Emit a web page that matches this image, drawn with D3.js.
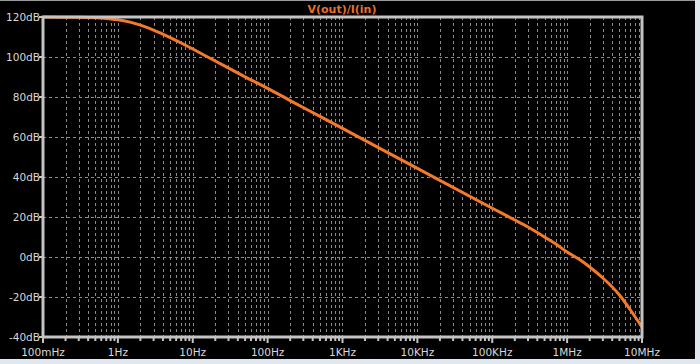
<!DOCTYPE html>
<html>
<head>
<meta charset="utf-8">
<script src="https://cdn.jsdelivr.net/npm/d3@7"></script>
<style>
  body { margin: 0; background: #dfe8f0; }
  svg { display: block; }
</style>
</head>
<body>
<svg id="chart" width="700" height="364"></svg>
<script>
// values (frequency in Hz, magnitude in dB)
const freqs = [0.1, 0.2, 0.3, 0.5, 0.7, 1, 1.5, 2, 3, 5, 7, 10, 20, 50, 100, 200, 500,
  1e3, 1e4, 1e5, 2e5, 3e5, 5e5, 7e5, 1e6, 1.5e6, 2e6, 3e6, 5e6, 7e6, 1e7]
const gainDb = [119.96, 119.93, 119.85, 119.6, 119.25, 118.6, 117.3, 115.9, 113.45, 109.7, 107.0, 104.0, 98.0, 90.1, 84.3, 78.2, 70.3,
  64.3, 44.3, 24.4, 18.5, 15.0, 10.0, 6.6, 2.5, -1.5, -5, -10.5, -19, -26.5, -35]
const xTickVals = [0.1, 1, 10, 100, 1e3, 1e4, 1e5, 1e6, 1e7]
const xTickLabels = ['100mHz', '1Hz', '10Hz', '100Hz', '1KHz', '10KHz', '100KHz', '1MHz', '10MHz']
const yTickVals = [120, 100, 80, 60, 40, 20, 0, -20, -40]
const traceName = 'V(out)/I(in)'

let dims = { left: 43, right: 642, top: 17, bottom: 337 }

let svg = d3.select('#chart')

// window frame
svg.append('rect').attr('x', 0).attr('y', 0).attr('width', 695).attr('height', 359).attr('fill', '#000')
svg.append('rect').attr('x', 0).attr('y', 0).attr('width', 695).attr('height', 1).attr('fill', '#9a9a9a')

let xScale = d3.scaleLog().domain([0.1, 1e7]).range([dims.left, dims.right])
let yScale = d3.scaleLinear().domain([-40, 120]).range([dims.bottom, dims.top])

// minor + major decade positions
let gridX = []
for (let d = -1; d < 7; d++) {
  for (let m = 1; m < 10; m++) gridX.push(m * Math.pow(10, d))
}
gridX.push(1e7)

let grid = svg.append('g')
  .attr('stroke', '#8a8a8a')
  .attr('stroke-width', 1)
  .attr('stroke-dasharray', '3,3')
  .attr('shape-rendering', 'crispEdges')

grid.selectAll('.vg')
  .data(gridX.filter(f => f > 0.1 && f < 1e7))
  .enter()
  .append('line')
  .attr('x1', d => Math.round(xScale(d)) + 0.5)
  .attr('x2', d => Math.round(xScale(d)) + 0.5)
  .attr('y1', dims.top)
  .attr('y2', dims.bottom)

grid.selectAll('.hg')
  .data(yTickVals.filter(v => v > -40 && v < 120))
  .enter()
  .append('line')
  .attr('x1', dims.left)
  .attr('x2', dims.right)
  .attr('y1', d => Math.round(yScale(d)) + 0.5)
  .attr('y2', d => Math.round(yScale(d)) + 0.5)

// trace
let line = d3.line()
  .x((d, i) => xScale(freqs[i]))
  .y(d => yScale(d))
  .curve(d3.curveMonotoneX)

svg.append('path')
  .datum(gainDb)
  .attr('d', line)
  .attr('fill', 'none')
  .attr('stroke', '#f47a2a')
  .attr('stroke-width', 3)
  .attr('stroke-linejoin', 'round')

// frame lines
let frame = svg.append('g').attr('stroke', '#c4c4c4').attr('stroke-width', 3).attr('fill', 'none')
frame.append('path')
  .attr('d', `M${dims.left},${dims.bottom}V${dims.top}H${dims.right}V${dims.bottom}H${dims.left}`)

// x ticks below the bottom axis
frame.selectAll('.xt')
  .data(gridX)
  .enter()
  .append('line')
  .attr('stroke-width', 2)
  .attr('x1', d => xScale(d))
  .attr('x2', d => xScale(d))
  .attr('y1', dims.bottom)
  .attr('y2', d => xTickVals.includes(d) ? dims.bottom + 6 : dims.bottom + 4)

// y ticks left of the axis
frame.selectAll('.yt')
  .data(yTickVals)
  .enter()
  .append('line')
  .attr('stroke-width', 2)
  .attr('x1', dims.left - 4)
  .attr('x2', dims.left)
  .attr('y1', d => yScale(d))
  .attr('y2', d => yScale(d))

let labelFont = 'Tahoma, "DejaVu Sans", sans-serif'

svg.selectAll('.yl')
  .data(yTickVals)
  .enter()
  .append('text')
  .attr('x', dims.left - 3)
  .attr('y', d => yScale(d))
  .attr('dy', '0.35em')
  .attr('text-anchor', 'end')
  .attr('fill', '#d8d8d8')
  .style('font-family', labelFont)
  .style('font-size', '10.5px')
  .text(d => d + 'dB')

svg.selectAll('.xl')
  .data(xTickVals)
  .enter()
  .append('text')
  .attr('x', d => xScale(d))
  .attr('y', 352)
  .attr('dy', '0.35em')
  .attr('text-anchor', 'middle')
  .attr('fill', '#d8d8d8')
  .style('font-family', labelFont)
  .style('font-size', '10.5px')
  .text((d, i) => xTickLabels[i])

svg.append('text')
  .attr('x', 342)
  .attr('y', 9)
  .attr('dy', '0.35em')
  .attr('text-anchor', 'middle')
  .attr('fill', '#e8702a')
  .style('font-family', labelFont)
  .style('font-size', '11px')
  .style('font-weight', 'bold')
  .text(traceName)
</script>
</body>
</html>
